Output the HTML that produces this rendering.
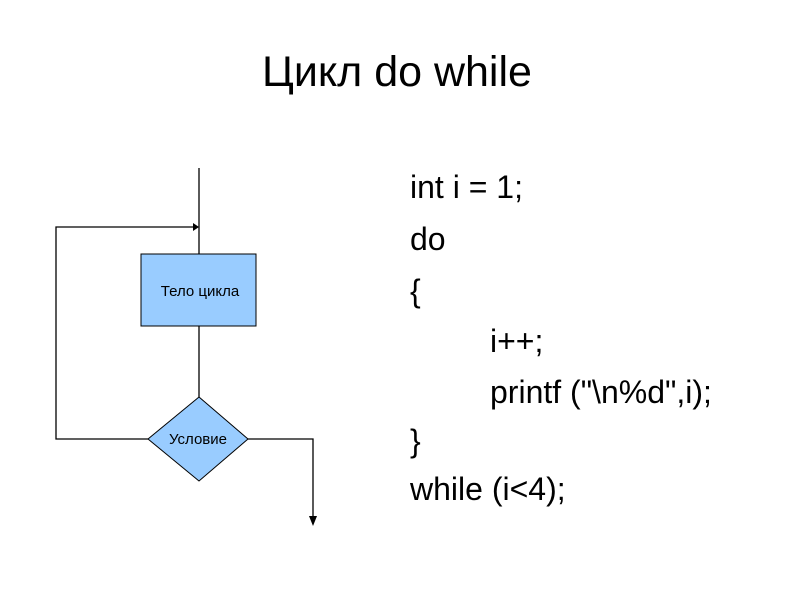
<!DOCTYPE html>
<html><head><meta charset="utf-8"><style>
body{margin:0;width:794px;height:595px;background:#fff;position:relative;overflow:hidden;font-family:"Liberation Sans",sans-serif;}
.t{position:absolute;white-space:nowrap;color:#000;}
.c{font-size:32px;}
</style></head><body>
<div class="t" style="left:0;width:794px;text-align:center;top:48px;font-size:43px;">Цикл do while</div>
<div class="t c" style="left:410px;top:169px;">int i = 1;</div>
<div class="t c" style="left:410px;top:221px;">do</div>
<div class="t c" style="left:410px;top:273px;">{</div>
<div class="t c" style="left:490px;top:323px;">i++;</div>
<div class="t c" style="left:490px;top:374px;">printf ("\n%d",i);</div>
<div class="t c" style="left:410px;top:423px;">}</div>
<div class="t c" style="left:410px;top:471px;">while (i&lt;4);</div>
<svg width="794" height="595" style="position:absolute;left:0;top:0">
<g stroke="#000" stroke-width="1.3" fill="none">
<line x1="199" y1="168" x2="199" y2="254"/>
<polyline points="148,439 56,439 56,227 194,227"/>
<line x1="199" y1="326" x2="199" y2="397"/>
<polyline points="248,439 313,439 313,518"/>
</g>
<polygon points="193,223 199,227 193,231" fill="#000"/>
<polygon points="309,516 317,516 313,526" fill="#000"/>
<rect x="141" y="254" width="115" height="72" fill="#99ccff" stroke="#000" stroke-width="1"/>
<polygon points="199,397 248,439 199,481 148,439" fill="#99ccff" stroke="#000" stroke-width="1"/>
<text x="200" y="296" font-size="15" text-anchor="middle" font-family="Liberation Sans,sans-serif">Тело цикла</text>
<text x="198" y="444" font-size="15" text-anchor="middle" font-family="Liberation Sans,sans-serif">Условие</text>
</svg>
</body></html>
